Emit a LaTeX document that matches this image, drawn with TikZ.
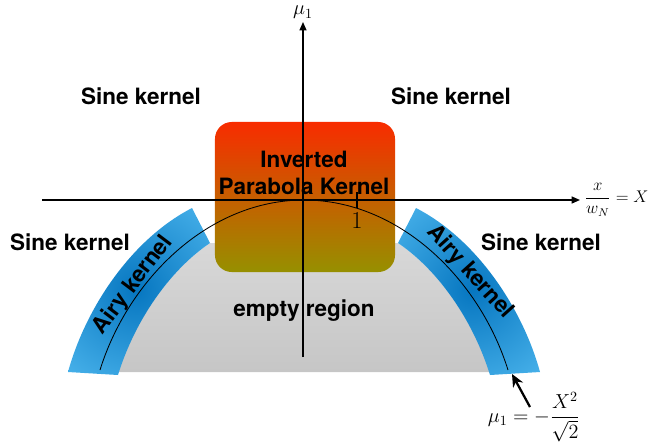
\documentclass[tikz,border=0pt]{standalone}
\usepackage{amsmath}
\usepackage{fontspec}
\setsansfont{TeX Gyre Heros}
\usetikzlibrary{arrows.meta, positioning, shadings}
\definecolor{pkred}{RGB}{248,44,0}
\definecolor{pkolive}{RGB}{150,144,0}
\definecolor{airydark}{RGB}{6,118,192}
\definecolor{airylight}{RGB}{90,194,246}
\definecolor{emptytop}{RGB}{216,216,216}
\definecolor{emptybot}{RGB}{198,198,198}
\tikzset{
  kernel/.style={font=\sffamily\bfseries\fontsize{16}{19.5}\selectfont,
    inner sep=0pt, align=center},
  axis/.style={-{Triangle[length=6pt,width=5pt]}, line width=1pt, color=black},
  curveline/.style={line width=0.6pt, color=black},
  annot/.style={-{Stealth[length=9pt,width=8pt]}, line width=1.6pt, color=black}
}

\begin{document}
\begin{tikzpicture}[x=0.025cm, y=-0.025cm,
  pkbox/.style={rectangle, rounded corners=12pt, minimum width=4.5cm,
    minimum height=3.75cm, top color=pkred, bottom color=pkolive, inner sep=0pt},
  mathlbl/.style={inner sep=1pt}]
  \useasboundingbox (0,0) rectangle (656,443);

  % Empty region
  \shade[top color=emptytop, bottom color=emptybot]
    (118,372) .. controls (135,320) and (170,270) .. (210,243) -- (398,243)
    .. controls (438,270) and (473,320) .. (490,372) -- cycle;

  % Airy bands
  \begin{scope}
    \clip (68,372) .. controls (85,310) and (130,240) .. (192,208) -- (210,243)
      .. controls (170,270) and (135,320) .. (118,375) -- cycle;
    \shade[inner color=airydark, outer color=airylight] (136,290) circle (140);
  \end{scope}
  \begin{scope}
    \clip (540,372) .. controls (523,310) and (478,240) .. (416,208) -- (398,243)
      .. controls (438,270) and (473,320) .. (490,375) -- cycle;
    \shade[inner color=airydark, outer color=airylight] (472,290) circle (140);
  \end{scope}

  % Nodes
  \node[pkbox] (pk) at (305,197) {};
  \node[kernel] (pktext) at (304,173) {Inverted\\Parabola Kernel};

  \draw[curveline] (100,370) .. controls (128,280) and (208,200) .. (304,200)
    .. controls (400,200) and (480,280) .. (508,370);

  % Axes
  \coordinate (xstart) at (42,200);
  \coordinate (xend) at (580,200);
  \coordinate (ystart) at (303,357);
  \coordinate (yend) at (303,22);
  \draw[axis] (xstart) -- (xend);
  \draw[axis] (ystart) -- (yend);
  \node[mathlbl, right=2pt of xend, font=\fontsize{12}{14}\selectfont] (xlab)
    {$\dfrac{x}{w_N}=X$};
  \node[mathlbl, above=1pt of yend, font=\fontsize{14.4}{16}\selectfont] (ylab)
    {$\mu_1$};
  \coordinate (tickup) at (357,192);
  \coordinate (tickdn) at (357,208);
  \draw[line width=0.8pt] (tickup) -- (tickdn);
  \node[mathlbl, font=\fontsize{17.28}{19}\selectfont] (one) at (357,221) {$1$};

  % Kernels
  \node[kernel] (sinetl) at (141,96) {Sine kernel};
  \node[kernel] (sinetr) at (451,96) {Sine kernel};
  \node[kernel] (sineml) at (70,242) {Sine kernel};
  \node[kernel] (sinemr) at (541,242) {Sine kernel};
  \node[kernel, rotate=53] (airyl) at (133,285) {Airy kernel};
  \node[kernel, rotate=-48] (airyr) at (470,272) {Airy kernel};
  \node[kernel] (empty) at (304,311) {empty region};

  % Curve label
  \node[mathlbl, font=\fontsize{14.4}{16}\selectfont] (curvelbl) at (534,417)
    {$\mu_1=-\dfrac{X^2}{\sqrt{2}}$};
  \coordinate (curveend) at (512,374);
  \coordinate (arrtail) at (530,407);
  \draw[annot] (arrtail) -- (curveend);

\end{tikzpicture}
\end{document}
